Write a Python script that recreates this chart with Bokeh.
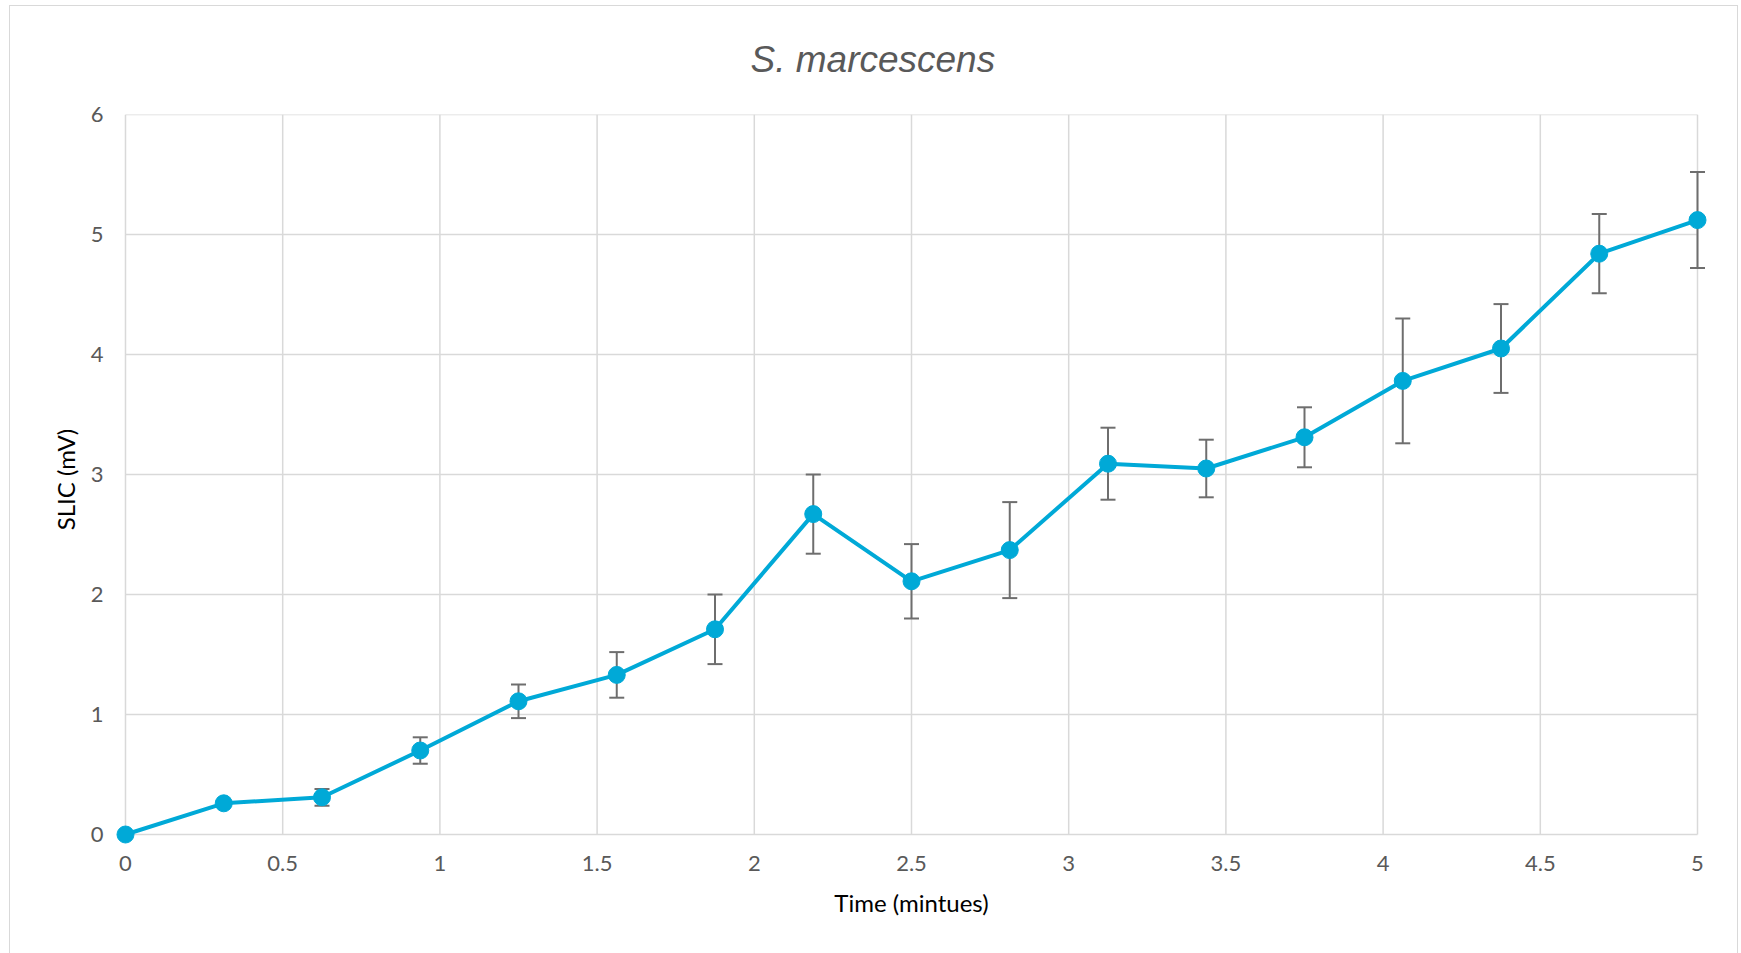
from bokeh.plotting import figure
from bokeh.models import Range1d, FixedTicker
from bokeh.embed import file_html
from bokeh.resources import INLINE

# ---- data ----
time_min = [0, 0.3125, 0.625, 0.9375, 1.25, 1.5625, 1.875, 2.1875, 2.5,
            2.8125, 3.125, 3.4375, 3.75, 4.0625, 4.375, 4.6875, 5.0]
slic_mv = [0, 0.26, 0.31, 0.70, 1.11, 1.33, 1.71, 2.67, 2.11,
           2.37, 3.09, 3.05, 3.31, 3.78, 4.05, 4.84, 5.12]
slic_err = [0, 0.02, 0.07, 0.11, 0.14, 0.19, 0.29, 0.33, 0.31,
            0.40, 0.30, 0.24, 0.25, 0.52, 0.37, 0.33, 0.40]
x_ticks = [0, 0.5, 1, 1.5, 2, 2.5, 3, 3.5, 4, 4.5, 5]
y_ticks = [0, 1, 2, 3, 4, 5, 6]
title_text = "S. marcescens"
x_label = "Time (mintues)"
y_label = "SLIC (mV)"

upper = [v + e for v, e in zip(slic_mv, slic_err)]
lower = [v - e for v, e in zip(slic_mv, slic_err)]

FONT = "Lato"
LINE_COLOR = "#00A9D7"
ERR_COLOR = "#6E6E6E"
GRID_COLOR = "#D9D9D9"
TEXT_COLOR = "#595959"

x_lo, x_hi = x_ticks[0], x_ticks[-1]
y_lo, y_hi = y_ticks[0], y_ticks[-1]

p = figure(width=1741, height=953, output_backend="svg", toolbar_location=None,
           x_range=Range1d(x_lo - 0.0318, x_hi + 0.0318),
           y_range=Range1d(y_lo - 0.0833, y_hi),
           min_border_left=115, min_border_right=34,
           min_border_top=114, min_border_bottom=109)
# chart-area frame (thin grey box) drawn as the page background behind a transparent border fill
frame_bg = ("linear-gradient(#D9D9D9, #D9D9D9) 9px 5px / 1729px 1px no-repeat, "
            "linear-gradient(#D9D9D9, #D9D9D9) 9px 5px / 1px 948px no-repeat, "
            "linear-gradient(#D9D9D9, #D9D9D9) 1737px 5px / 1px 948px no-repeat, "
            "#FFFFFF")
p.styles = {"background": frame_bg}
p.outline_line_color = None
p.background_fill_color = "white"
p.border_fill_color = "white"
p.border_fill_alpha = 0
p.xgrid.visible = False
p.ygrid.visible = False

# grid lines, drawn only across the 0..5 x 0..6 area
p.segment(x0=x_ticks, y0=[y_lo] * len(x_ticks), x1=x_ticks, y1=[y_hi] * len(x_ticks),
          line_color=GRID_COLOR, line_width=1.5)
p.segment(x0=[x_lo] * len(y_ticks), y0=y_ticks, x1=[x_hi] * len(y_ticks), y1=y_ticks,
          line_color=GRID_COLOR, line_width=1.5)

# axes
p.xaxis.ticker = FixedTicker(ticks=x_ticks)
p.yaxis.ticker = FixedTicker(ticks=y_ticks)
for ax in (p.xaxis, p.yaxis):
    ax.axis_line_color = None
    ax.major_tick_line_color = None
    ax.minor_tick_line_color = None
    ax.major_tick_out = 0
    ax.major_tick_in = 0
    ax.minor_tick_out = 0
    ax.minor_tick_in = 0
    ax.major_label_text_font = FONT
    ax.major_label_text_font_size = "22px"
    ax.major_label_text_color = TEXT_COLOR
    ax.axis_label_text_font = FONT
    ax.axis_label_text_font_size = "24px"
    ax.axis_label_text_font_style = "normal"
    ax.axis_label_text_color = "#000000"
p.xaxis.major_label_standoff = 11
p.yaxis.major_label_standoff = 12
p.xaxis.axis_label = x_label
p.yaxis.axis_label = y_label
p.xaxis.axis_label_standoff = 14
p.yaxis.axis_label_standoff = 8

# error bars
p.segment(x0=time_min, y0=lower, x1=time_min, y1=upper,
          line_color=ERR_COLOR, line_width=2)
p.scatter(x=time_min, y=upper, marker="dash", size=15,
          line_color=ERR_COLOR, line_width=2)
p.scatter(x=time_min, y=lower, marker="dash", size=15,
          line_color=ERR_COLOR, line_width=2)

# series
p.line(x=time_min, y=slic_mv, line_color=LINE_COLOR, line_width=4)
p.scatter(x=time_min, y=slic_mv, marker="circle", size=17,
          fill_color=LINE_COLOR, line_color=LINE_COLOR)

# title
p.title.text = title_text
p.title.align = "left"
p.title.text_font = "Liberation Sans"
p.title.text_font_size = "37px"
p.title.text_font_style = "italic"
p.title.text_color = TEXT_COLOR
p.title.offset = 635
p.title.standoff = 70

open("out.html", "w").write(file_html(p, INLINE))
